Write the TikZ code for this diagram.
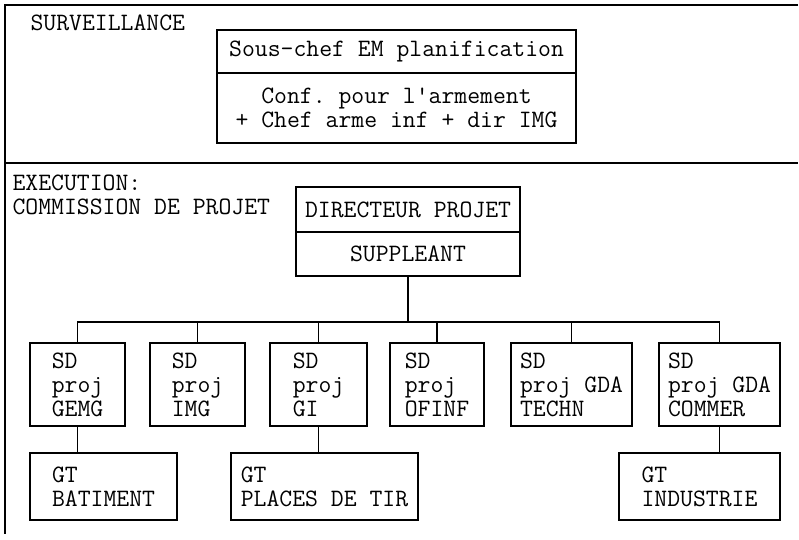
\documentclass[tikz,border=0pt]{standalone}
\usepackage{fontspec}
\setmonofont{Latin Modern Mono}
\usepackage{tikz}
\usetikzlibrary{positioning,calc}
\tikzset{>=latex}
\tikzset{font=\ttfamily\fontsize{25}{24}\selectfont}
\tikzset{box/.style={draw, line width=1.1pt, inner sep=0pt, align=left},
  cbox/.style={box, align=center},
  sdbox/.style={box, minimum height=83},
  gtbox/.style={box, minimum height=67},
  link/.style={line width=1.1pt}}

\begin{document}
\begin{tikzpicture}[x=1pt, y=-1pt]
  \useasboundingbox (0,0) rectangle (799,539);
  % frame
  \draw[link] (798,5) -- (5,5) -- (5,534);
  \draw[link] (5,163) -- (798,163);
  \node[anchor=west] (surv) at (27,23) {SURVEILLANCE};
  \node[anchor=west, align=left] (exec) at (9,195) {EXECUTION:\\COMMISSION DE PROJET};
  % surveillance
  \node[cbox, minimum width=359, minimum height=43] (chefem) at (396.5,51.5) {Sous-chef EM planification};
  \node[cbox, minimum width=359, minimum height=70] (conf) at (396.5,108) {Conf. pour l'armement\\+ Chef arme inf + dir IMG};
  % execution
  \node[cbox, minimum width=224, minimum height=45] (dirp) at (408,209.5) {DIRECTEUR PROJET};
  \node[cbox, minimum width=224, minimum height=44] (suppl) at (408,254) {SUPPLEANT};
  \node[sdbox, minimum width=95] (sd1) at (77.5,384.5) {SD\\proj\\GEMG};
  \node[sdbox, minimum width=95] (sd2) at (197.5,384.5) {SD\\proj\\IMG};
  \node[sdbox, minimum width=97] (sd3) at (318.5,384.5) {SD\\proj\\GI};
  \node[sdbox, minimum width=94] (sd4) at (437,384.5) {SD\\proj\\OFINF};
  \node[sdbox, minimum width=121] (sd5) at (571.5,384.5) {SD\\proj GDA\\TECHN};
  \node[sdbox, minimum width=121] (sd6) at (719.5,384.5) {SD\\proj GDA\\COMMER};
  \node[gtbox, minimum width=147] (gt1) at (103.5,486.5) {GT\\BATIMENT};
  \node[gtbox, minimum width=187] (gt2) at (324.5,486.5) {GT\\PLACES DE TIR};
  \node[gtbox, minimum width=161] (gt3) at (699.5,486.5) {GT\\INDUSTRIE};
  % connectors
  \coordinate (bus) at (408,322);
  \draw[link] (suppl.south) -- (bus);
  \foreach \n in {sd1,sd2,sd3,sd4,sd5,sd6}
    \draw[link] (bus) -| (\n.north);
  \draw[link] (sd1.south) -- (sd1.south |- gt1.north);
  \draw[link] (sd3.south) -- (sd3.south |- gt2.north);
  \draw[link] (sd6.south) -- (sd6.south |- gt3.north);
\end{tikzpicture}
\end{document}
